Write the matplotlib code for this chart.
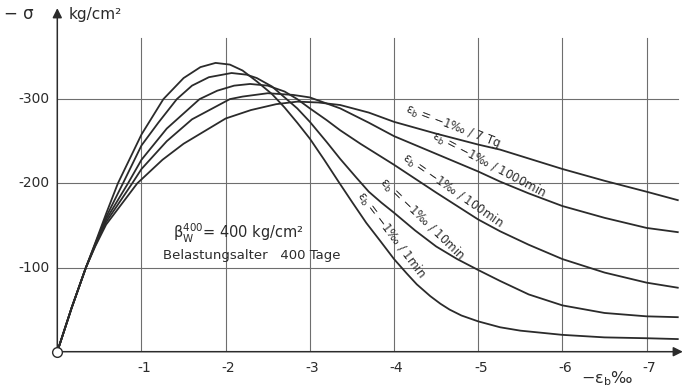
import matplotlib
matplotlib.use("Agg")
import matplotlib.pyplot as plt

# strain -eps_b in permille, stress -sigma in kg/cm2
eps_1min = [0, 0.17, 0.34, 0.45, 0.58, 0.72, 1.0, 1.26, 1.5, 1.7, 1.88, 2.05, 2.2, 2.37, 2.55, 2.7,
            2.85, 3.0, 3.17, 3.34, 3.5, 3.67, 3.84, 4.0, 4.15, 4.27, 4.43, 4.55, 4.66, 4.8, 5.0,
            5.26, 5.5, 6.0, 6.5, 7.0, 7.37]
sig_1min = [0, 52, 100, 129, 164, 200, 258, 300, 325, 338, 343, 341, 334, 321, 306, 290,
            272, 253, 228, 202, 178, 153, 131, 110, 93, 80, 66, 57, 50, 43, 36,
            29, 25, 20, 17, 16, 15]

eps_10min = [0, 0.17, 0.34, 0.45, 0.58, 0.78, 1.0, 1.2, 1.42, 1.6, 1.8, 2.07, 2.25, 2.37, 2.55,
             2.7, 2.85, 3.0, 3.2, 3.36, 3.55, 3.7, 3.85, 4.0, 4.25, 4.5, 4.75, 5.0, 5.26, 5.6,
             6.0, 6.5, 7.0, 7.37]
sig_10min = [0, 52, 100, 128, 160, 200, 245, 272, 300, 316, 326, 331, 329, 325, 315,
             302, 289, 273, 249, 229, 207, 190, 177, 165, 144, 125, 110, 97, 84, 68,
             55, 46, 42, 41]

eps_100min = [0, 0.17, 0.34, 0.45, 0.58, 0.84, 1.0, 1.3, 1.69, 1.9, 2.1, 2.29, 2.5, 2.7, 2.85,
              3.0, 3.2, 3.36, 3.6, 4.0, 4.5, 5.0, 5.26, 5.6, 6.0, 6.5, 7.0, 7.37]
sig_100min = [0, 52, 100, 127, 157, 200, 228, 265, 300, 310, 316, 318, 316, 309, 300,
              289, 275, 263, 247, 222, 189, 157, 143, 127, 110, 94, 82, 76]

eps_1000min = [0, 0.17, 0.34, 0.45, 0.58, 0.89, 1.0, 1.3, 1.6, 2.05, 2.2, 2.5, 2.8, 3.0, 3.36,
               3.7, 4.0, 4.5, 5.0, 5.26, 5.6, 6.0, 6.5, 7.0, 7.37]
sig_1000min = [0, 52, 100, 126, 154, 200, 217, 250, 276, 300, 303, 307, 305, 302, 289,
               272, 256, 235, 214, 202, 188, 173, 159, 147, 142]

eps_7tg = [0, 0.17, 0.34, 0.45, 0.58, 0.95, 1.25, 1.5, 2.0, 2.3, 2.6, 2.85, 3.1, 3.36, 3.7, 4.0,
           4.5, 5.0, 5.26, 6.0, 6.5, 7.0, 7.37]
sig_7tg = [0, 52, 100, 125, 151, 200, 228, 247, 277, 287, 294, 297, 296, 293, 284, 273,
           259, 246, 240, 217, 203, 190, 180]

curve_labels = ["1min", "10min", "100min", "1000min", "7 Tg"]
# label anchor (eps, sigma) and rotation in degrees
label_pos = [(3.96, 139), (4.33, 157), (4.69, 191), (5.13, 222), (4.7, 267)]
label_rot = [-53, -44, -35, -28, -21]

x_ticks = [1, 2, 3, 4, 5, 6, 7]
x_ticklabels = ["-1", "-2", "-3", "-4", "-5", "-6", "-7"]
y_ticks = [100, 200, 300]
y_ticklabels = ["-100", "-200", "-300"]

ink = "#2b2b2b"
gridc = "#6e6e6e"

fig = plt.figure(figsize=(6.82, 3.89), dpi=100)
ax = fig.add_axes([57.3 / 682, 37.3 / 389, 623 / 682, 345.2 / 389])
ax.set_xlim(0, 7.4)
ax.set_ylim(0, 410)
ax.axis("off")

# grid
for x in x_ticks:
    ax.plot([x, x], [0, 372], color=gridc, lw=0.8, zorder=1)
for y in y_ticks:
    ax.plot([0, 7.37], [y, y], color=gridc, lw=0.8, zorder=1)

# axes with arrows
ax.annotate("", xy=(7.43, 0), xytext=(0, 0), annotation_clip=False,
            arrowprops=dict(arrowstyle="-|>", color=ink, lw=1.1, mutation_scale=14,
                            shrinkA=0, shrinkB=0))
ax.annotate("", xy=(0, 408), xytext=(0, 0), annotation_clip=False,
            arrowprops=dict(arrowstyle="-|>", color=ink, lw=1.1, mutation_scale=14,
                            shrinkA=0, shrinkB=0))

# curves
series = [(eps_1min, sig_1min), (eps_10min, sig_10min), (eps_100min, sig_100min),
          (eps_1000min, sig_1000min), (eps_7tg, sig_7tg)]
for e, s in series:
    ax.plot(e, s, color=ink, lw=1.3, zorder=3, solid_joinstyle="round")

ax.plot([0], [0], marker="o", ms=7, mfc="white", mec=ink, mew=1.0, zorder=5, clip_on=False)

# curve labels
for name, (lx, ly), rot in zip(curve_labels, label_pos, label_rot):
    ax.text(lx, ly, "ε$_\\mathrm{b}$ = −1‰ / " + name, rotation=rot, rotation_mode="anchor",
            ha="center", va="center", fontsize=8.5, color=ink, zorder=4)

# tick labels
for x, t in zip(x_ticks, x_ticklabels):
    ax.text(x + 0.03, -19, t, ha="center", va="center", fontsize=10, color=ink, clip_on=False)
for y, t in zip(y_ticks, y_ticklabels):
    ax.text(-0.09, y, t, ha="right", va="center", fontsize=10, color=ink, clip_on=False)

# axis titles
ax.text(6.53, -32, "−ε$_\\mathrm{b}$‰", ha="center", va="center", fontsize=11.5, color=ink,
        clip_on=False)
ax.text(-0.28, 401, "− σ", ha="right", va="center", fontsize=12, color=ink, clip_on=False)
ax.text(0.13, 401, "kg/cm²", ha="left", va="center", fontsize=11, color=ink, clip_on=False)

# material note
ax.text(1.38, 140, "β$_\\mathrm{W}^{400}$= 400 kg/cm²", ha="left", va="center",
        fontsize=10.5, color=ink)
ax.text(1.25, 114, "Belastungsalter   400 Tage", ha="left", va="center",
        fontsize=9.5, color=ink)

fig.savefig("out.png", dpi=100, facecolor="white")
